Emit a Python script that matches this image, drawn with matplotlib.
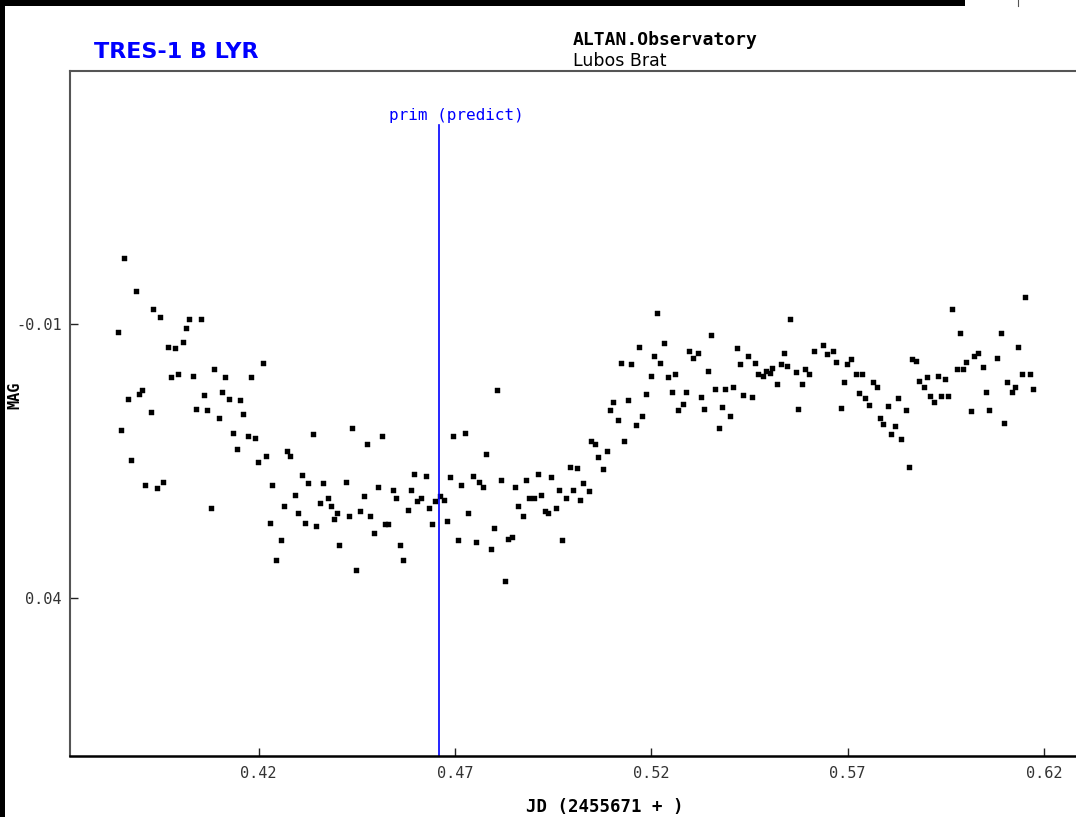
import matplotlib
matplotlib.use("Agg")
import matplotlib.pyplot as plt
from matplotlib.patches import Rectangle
from matplotlib.lines import Line2D

# ---------------- data ----------------
jd = [
    0.3842, 0.3850, 0.3858, 0.3867, 0.3875, 0.3887, 0.3895, 0.3903, 0.3912, 0.3925,
    0.3932, 0.3941, 0.3949, 0.3958, 0.3970, 0.3978, 0.3987, 0.3995, 0.4007, 0.4015,
    0.4024, 0.4032, 0.4041, 0.4053, 0.4061, 0.4070, 0.4078, 0.4087, 0.4099, 0.4107,
    0.4115, 0.4124, 0.4136, 0.4145, 0.4153, 0.4161, 0.4173, 0.4182, 0.4190, 0.4198,
    0.4211, 0.4219, 0.4228, 0.4235, 0.4244, 0.4256, 0.4264, 0.4273, 0.4281, 0.4294,
    0.4301, 0.4310, 0.4318, 0.4327, 0.4339, 0.4347, 0.4356, 0.4364, 0.4377, 0.4385,
    0.4393, 0.4401, 0.4406,
    0.4423, 0.4430, 0.4439, 0.4447, 0.4459, 0.4469, 0.4476, 0.4485, 0.4493, 0.4505,
    0.4514, 0.4522, 0.4530, 0.4542, 0.4551, 0.4559, 0.4568, 0.4580, 0.4588, 0.4597,
    0.4604, 0.4614, 0.4626, 0.4633, 0.4642, 0.4650, 0.4663, 0.4672, 0.4679, 0.4688,
    0.4696, 0.4708, 0.4716, 0.4725, 0.4733, 0.4745, 0.4754, 0.4762, 0.4771, 0.4779,
    0.4791, 0.4800, 0.4808, 0.4817, 0.4828, 0.4836, 0.4845, 0.4853, 0.4861, 0.4874,
    0.4882, 0.4889, 0.4901, 0.4911, 0.4920, 0.4928, 0.4936, 0.4945, 0.4957, 0.4965,
    0.4973, 0.4982, 0.4994, 0.5000,
    0.5010, 0.5019, 0.5027, 0.5041, 0.5047, 0.5056, 0.5065, 0.5077, 0.5087, 0.5094,
    0.5102, 0.5115, 0.5123, 0.5131, 0.5140, 0.5148, 0.5160, 0.5169, 0.5177, 0.5186,
    0.5198, 0.5206, 0.5214, 0.5222, 0.5231, 0.5243, 0.5252, 0.5260, 0.5268, 0.5281,
    0.5288, 0.5297, 0.5305, 0.5318, 0.5327, 0.5334, 0.5343, 0.5351, 0.5363, 0.5372,
    0.5380, 0.5388, 0.5400, 0.5409, 0.5418, 0.5426, 0.5434, 0.5446, 0.5455, 0.5463,
    0.5471, 0.5484, 0.5492, 0.5501, 0.5508, 0.5521, 0.5530, 0.5538, 0.5546, 0.5554,
    0.5567, 0.5574,
    0.5583, 0.5591, 0.5602, 0.5613, 0.5637, 0.5646, 0.5663, 0.5670, 0.5682, 0.5691,
    0.5699, 0.5708, 0.5720, 0.5728, 0.5737, 0.5745, 0.5754, 0.5765, 0.5775, 0.5782,
    0.5791, 0.5803, 0.5811, 0.5820, 0.5827, 0.5836, 0.5849, 0.5857, 0.5863, 0.5873,
    0.5882, 0.5894, 0.5902, 0.5910, 0.5919, 0.5930, 0.5938, 0.5947, 0.5956, 0.5965,
    0.5977, 0.5986, 0.5994, 0.6002, 0.6014, 0.6022, 0.6031, 0.6044, 0.6051, 0.6060,
    0.6080, 0.6089, 0.6097, 0.6105, 0.6118, 0.6126, 0.6134, 0.6143, 0.6152, 0.6163,
    0.6172,
]

mag = [
    -0.0086, 0.0093, -0.0220, 0.0036, 0.0148, -0.0160, 0.0027, 0.0021, 0.0193, 0.0060,
    -0.0127, 0.0199, -0.0113, 0.0187, -0.0059, -0.0003, -0.0056, -0.0009, -0.0068, -0.0092,
    -0.0110, -0.0006, 0.0054, -0.0110, 0.0030, 0.0057, 0.0235, -0.0018, 0.0071, 0.0024,
    -0.0003, 0.0036, 0.0098, 0.0128, 0.0039, 0.0063, 0.0104, -0.0003, 0.0107, 0.0152,
    -0.0029, 0.0140, 0.0262, 0.0193, 0.0330, 0.0294, 0.0232, 0.0131, 0.0140, 0.0211,
    0.0244, 0.0175, 0.0262, 0.0190, 0.0101, 0.0268, 0.0226, 0.0190, 0.0217, 0.0232,
    0.0256, 0.0244, 0.0303,
    0.0187, 0.0250, 0.0090, 0.0348, 0.0241, 0.0214, 0.0119, 0.0250, 0.0280, 0.0197,
    0.0104, 0.0265, 0.0265, 0.0203, 0.0217, 0.0303, 0.0330, 0.0238, 0.0203, 0.0173,
    0.0223, 0.0217, 0.0176, 0.0235, 0.0265, 0.0223, 0.0214, 0.0220, 0.0258, 0.0179,
    0.0104, 0.0294, 0.0193, 0.0098, 0.0244, 0.0176, 0.0297, 0.0187, 0.0197, 0.0137,
    0.0310, 0.0271, 0.0021, 0.0184, 0.0368, 0.0291, 0.0288, 0.0197, 0.0232, 0.0250,
    0.0184, 0.0217, 0.0217, 0.0173, 0.0211, 0.0241, 0.0244, 0.0179, 0.0235, 0.0203,
    0.0294, 0.0217, 0.0161, 0.0203,
    0.0163, 0.0220, 0.0190, 0.0205, 0.0113, 0.0119, 0.0142, 0.0164, 0.0131, 0.0057,
    0.0042, 0.0074, -0.0029, 0.0113, 0.0039, -0.0027, 0.0084, -0.0059, 0.0068, 0.0027,
    -0.0006, -0.0041, -0.0121, -0.0029, -0.0065, -0.0003, 0.0024, -0.0009, 0.0057, 0.0045,
    0.0024, -0.0050, -0.0038, -0.0047, 0.0033, 0.0054, -0.0014, -0.0080, 0.0018, 0.0089,
    0.0051, 0.0018, 0.0068, 0.0015, -0.0056, -0.0027, 0.0030, -0.0041, 0.0033, -0.0029,
    -0.0009, -0.0006, -0.0014, -0.0011, -0.0020, 0.0009, -0.0027, -0.0047, -0.0023, -0.0110,
    -0.0012, 0.0054,
    0.0009, -0.0018, -0.0009, -0.0051, -0.0062, -0.0045, -0.0051, -0.0030, 0.0053, 0.0006,
    -0.0027, -0.0036, -0.0009, 0.0026, -0.0009, 0.0035, 0.0047, 0.0006, 0.0015, 0.0071,
    0.0083, 0.0050, 0.0101, 0.0086, 0.0035, 0.0110, 0.0056, 0.0161, -0.0036, -0.0033,
    0.0003, 0.0015, -0.0003, 0.0032, 0.0042, -0.0006, 0.0032, 0.0000, 0.0032, -0.0127,
    -0.0018, -0.0083, -0.0018, -0.0030, 0.0059, -0.0042, -0.0048, -0.0021, 0.0023, 0.0056,
    -0.0039, -0.0083, 0.0080, 0.0006, 0.0023, 0.0014, -0.0059, -0.0009, -0.0149, -0.0009,
    0.0018,
]

prim_predict = 0.4660
x_ticks = [0.42, 0.47, 0.52, 0.57, 0.62]
x_tick_labels = ["0.42", "0.47", "0.52", "0.57", "0.62"]
y_ticks = [-0.01, 0.04]
y_tick_labels = ["-0.01", "0.04"]

title = "TRES-1 B LYR"
observatory = "ALTAN.Observatory"
observer = "Lubos Brat"
x_label = "JD (2455671 + )"
y_label = "MAG"

# ---------------- figure ----------------
W, H = 1076, 817
fig = plt.figure(figsize=(W / 100, H / 100), dpi=100, facecolor="white")

def fx(px):
    return px / W

def fy(py):
    return 1 - py / H

# black frame remnants (screenshot border)
fig.patches.append(Rectangle((0, fy(6)), fx(965), 6 / H, transform=fig.transFigure,
                             facecolor="black", edgecolor="none", zorder=0))
fig.patches.append(Rectangle((0, 0), fx(5), 1, transform=fig.transFigure,
                             facecolor="black", edgecolor="none", zorder=0))
fig.lines.append(Line2D([fx(1018), fx(1018)], [fy(0), fy(6)], transform=fig.transFigure,
                        color="#555555", lw=0.8))

left, right, top, bottom = 70, 1076, 71, 756
ax = fig.add_axes([fx(left), fy(bottom), (right - left) / W, (bottom - top) / H])
ax.set_xlim(0.3720, 0.62811)
ax.set_ylim(0.0687, -0.0561)

ax.plot(jd, mag, linestyle="none", marker="s", markersize=3.6,
        markerfacecolor="black", markeredgecolor="black", markeredgewidth=0.3)

ax.axvline(prim_predict, ymin=0, ymax=(bottom - 125) / (bottom - top),
           color="#0000ff", lw=1.2)
ax.annotate("prim (predict)", xy=(prim_predict, -0.0463), xytext=(12.5, 7),
            textcoords="offset points", ha="center", va="center",
            color="#0000ff", family="DejaVu Sans Mono", fontsize=11.5)

for s in ["top", "left"]:
    ax.spines[s].set_color("#555555")
    ax.spines[s].set_linewidth(1.5)
ax.spines["right"].set_visible(False)
ax.spines["bottom"].set_color("black")
ax.spines["bottom"].set_linewidth(1.8)

ax.set_xticks(x_ticks)
ax.set_xticklabels(x_tick_labels)
ax.set_yticks(y_ticks)
ax.set_yticklabels(y_tick_labels)
ax.tick_params(axis="both", direction="in", length=6, width=1.0, color="#222222",
               labelsize=11, labelcolor="#333333")
ax.tick_params(axis="x", pad=7)
ax.tick_params(axis="y", pad=6)
for lab in ax.get_xticklabels() + ax.get_yticklabels():
    lab.set_family("DejaVu Sans Mono")

fig.text(fx(94), fy(52), title, ha="left", va="center", color="#0000ff",
         family="DejaVu Sans", fontweight="bold", fontsize=16)
fig.text(fx(573), fy(40), observatory, ha="left", va="center", color="black",
         family="DejaVu Sans Mono", fontweight="bold", fontsize=13)
fig.text(fx(573), fy(61), observer, ha="left", va="center", color="black",
         family="DejaVu Sans", fontsize=12.5)
fig.text(fx(605), fy(807), x_label, ha="center", va="center", color="black",
         family="DejaVu Sans Mono", fontweight="bold", fontsize=12.5)
fig.text(fx(15), fy(395), y_label, ha="center", va="center", rotation=90,
         color="black", family="DejaVu Sans Mono", fontweight="bold", fontsize=11)

fig.savefig("out.png", dpi=100, facecolor="white")
